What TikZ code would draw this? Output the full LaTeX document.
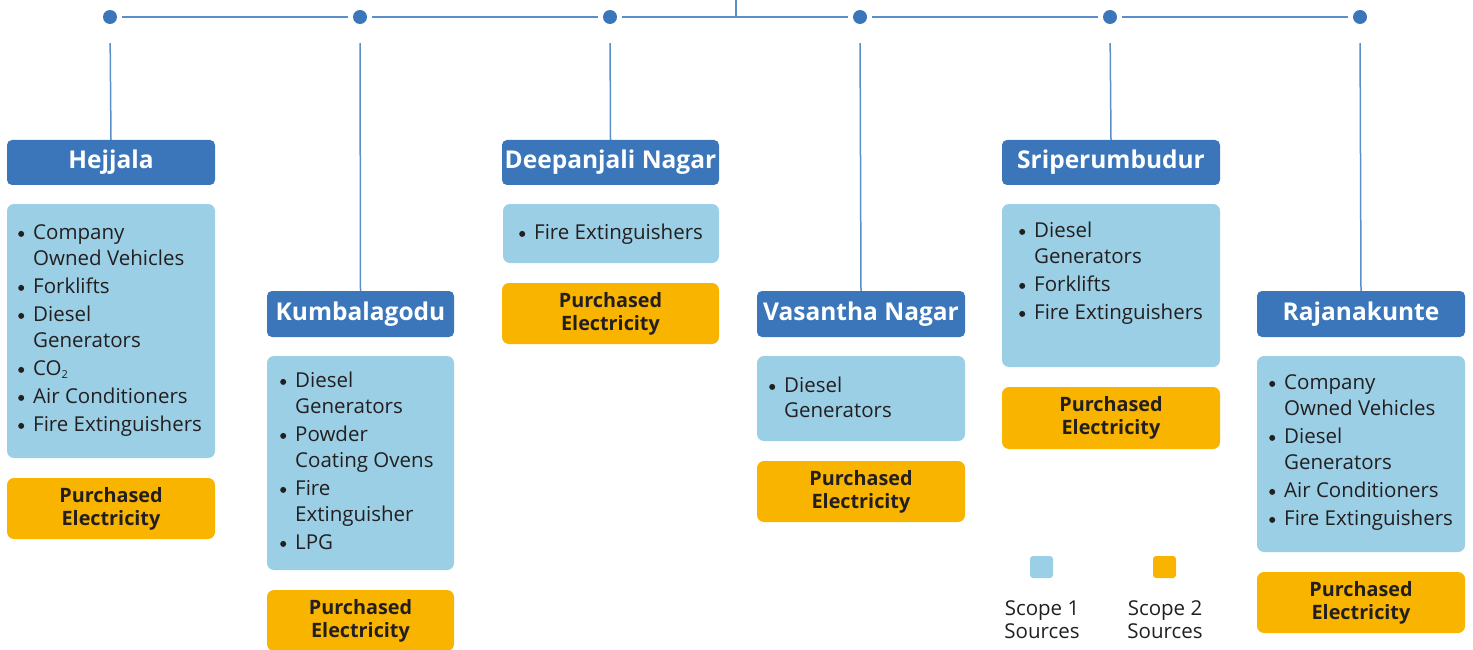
\documentclass[tikz,border=0pt]{standalone}
\usepackage{fontspec}
\setmainfont{Open Sans}
\definecolor{hblue}{HTML}{3A76B9}
\definecolor{lblue}{HTML}{9BCFE5}
\definecolor{orng}{HTML}{F9B400}
\definecolor{lnblue}{HTML}{5B8FCC}
\definecolor{txt}{HTML}{231F20}
\newcommand\placebox[7]{\node[#1, minimum width={#5pt-#3pt}, minimum height={#6pt-#4pt}] (#2) at ({(#3+#5)/2},{(#4+#6)/2}) {#7};}
\newcommand\subtwo{\raisebox{-3pt}{\fontsize{11}{11}\selectfont 2}}
\newcommand\bul{\tikz[baseline=-5.5pt]\fill[txt] (0,0) circle (3pt);}
\begin{document}
\begin{tikzpicture}[x=1pt,y=-1pt,
  hdr/.style={fill=hblue, rounded corners=5pt, text=white, font=\fontsize{24.5}{28}\selectfont\bfseries, inner sep=0pt},
  srcbox/.style={fill=lblue, rounded corners=7pt, inner sep=0pt},
  elec/.style={fill=orng, rounded corners=7pt, inner sep=0pt, font=\fontsize{19.8}{23}\selectfont\bfseries, text=txt, align=center},
  lst/.style={anchor=north west, inner sep=0pt, font=\fontsize{20.5}{26}\selectfont, text=txt},
  dot/.style={circle, fill=hblue, minimum size=14pt, inner sep=0pt},
  conn/.style={draw=lnblue, line width=1.5pt},
  leg/.style={rounded corners=3pt, minimum width=23pt, minimum height=22pt, inner sep=0pt},
  legtxt/.style={align=center, font=\fontsize{20.5}{23}\selectfont, text=txt, inner sep=0pt},
]
\useasboundingbox (0,0) rectangle (1473,650);

% top bar
\coordinate (top) at (736,0);
\coordinate (join) at (736,17);
\foreach \i/\x in {1/110,2/360,3/610,4/860,5/1110,6/1360}{
  \node[dot] (d\i) at (\x,17) {};
}
\foreach \a/\b in {1/2,2/3,3/4,4/5,5/6}{
  \draw[conn, shorten <=5pt, shorten >=5pt] (d\a) -- (d\b);
}
\draw[conn] (top) -- (join);

% headers
\placebox{hdr}{h1}{7}{140}{215}{185}{Hejjala}
\placebox{hdr}{h2}{267}{291}{454}{337}{Kumbalagodu}
\placebox{hdr}{h3}{502}{140}{719}{185}{Deepanjali Nagar}
\placebox{hdr}{h4}{757}{291}{965}{337}{Vasantha Nagar}
\placebox{hdr}{h5}{1002}{140}{1220}{185}{Sriperumbudur}
\placebox{hdr}{h6}{1257}{291}{1465}{337}{Rajanakunte}

\foreach \i in {1,...,6}{
  \draw[conn, shorten <=19pt] (d\i.south) -- (h\i.north);
}

% scope 1 boxes
\placebox{srcbox}{s1}{7}{204}{215}{458}{}
\placebox{srcbox}{s2}{267}{356}{454}{570}{}
\placebox{srcbox}{s3}{503}{204}{719}{263}{}
\placebox{srcbox}{s4}{757}{356}{965}{441}{}
\placebox{srcbox}{s5}{1002}{204}{1220}{367}{}
\placebox{srcbox}{s6}{1257}{356}{1465}{552}{}

% scope 2 boxes
\placebox{elec}{e1}{7}{478}{215}{539}{Purchased\\Electricity}
\placebox{elec}{e2}{267}{590}{454}{651}{Purchased\\Electricity}
\placebox{elec}{e3}{502}{283}{719}{344}{Purchased\\Electricity}
\placebox{elec}{e4}{757}{461}{965}{522}{Purchased\\Electricity}
\placebox{elec}{e5}{1002}{387}{1220}{449}{Purchased\\Electricity}
\placebox{elec}{e6}{1257}{572}{1465}{633}{Purchased\\Electricity}

% lists
\node[lst] (t1) at (18,221) {\begin{tabular}{@{}l@{\hspace{9pt}}l@{}}
\bul & Company\\ & Owned Vehicles\\[2pt]
\bul & Forklifts\\[2pt]
\bul & Diesel\\ & Generators\\[2pt]
\bul & CO\subtwo\\[2pt]
\bul & Air Conditioners\\[2pt]
\bul & Fire Extinguishers
\end{tabular}};
\node[lst] (t2) at (280,369) {\begin{tabular}{@{}l@{\hspace{9pt}}l@{}}
\bul & Diesel\\ & Generators\\[2pt]
\bul & Powder\\ & Coating Ovens\\[2pt]
\bul & Fire\\ & Extinguisher\\[2pt]
\bul & LPG
\end{tabular}};
\node[lst] (t3) at (519,221) {\begin{tabular}{@{}l@{\hspace{9pt}}l@{}}
\bul & Fire Extinguishers
\end{tabular}};
\node[lst] (t4) at (769,374) {\begin{tabular}{@{}l@{\hspace{9pt}}l@{}}
\bul & Diesel\\[-1pt] & Generators
\end{tabular}};
\node[lst] (t5) at (1019,219) {\begin{tabular}{@{}l@{\hspace{9pt}}l@{}}
\bul & Diesel\\ & Generators\\[2pt]
\bul & Forklifts\\[2pt]
\bul & Fire Extinguishers
\end{tabular}};
\node[lst] (t6) at (1269,371) {\begin{tabular}{@{}l@{\hspace{9pt}}l@{}}
\bul & Company\\ & Owned Vehicles\\[2pt]
\bul & Diesel\\ & Generators\\[2pt]
\bul & Air Conditioners\\[2pt]
\bul & Fire Extinguishers
\end{tabular}};

% legend
\placebox{leg, fill=lblue}{l1}{1030}{556}{1053}{578}{}
\placebox{leg, fill=orng}{l2}{1153}{556}{1176}{578}{}
\node[legtxt] (lt1) at (1042,619.5) {Scope 1\\Sources};
\node[legtxt] (lt2) at (1165,619.5) {Scope 2\\Sources};
\end{tikzpicture}
\end{document}
